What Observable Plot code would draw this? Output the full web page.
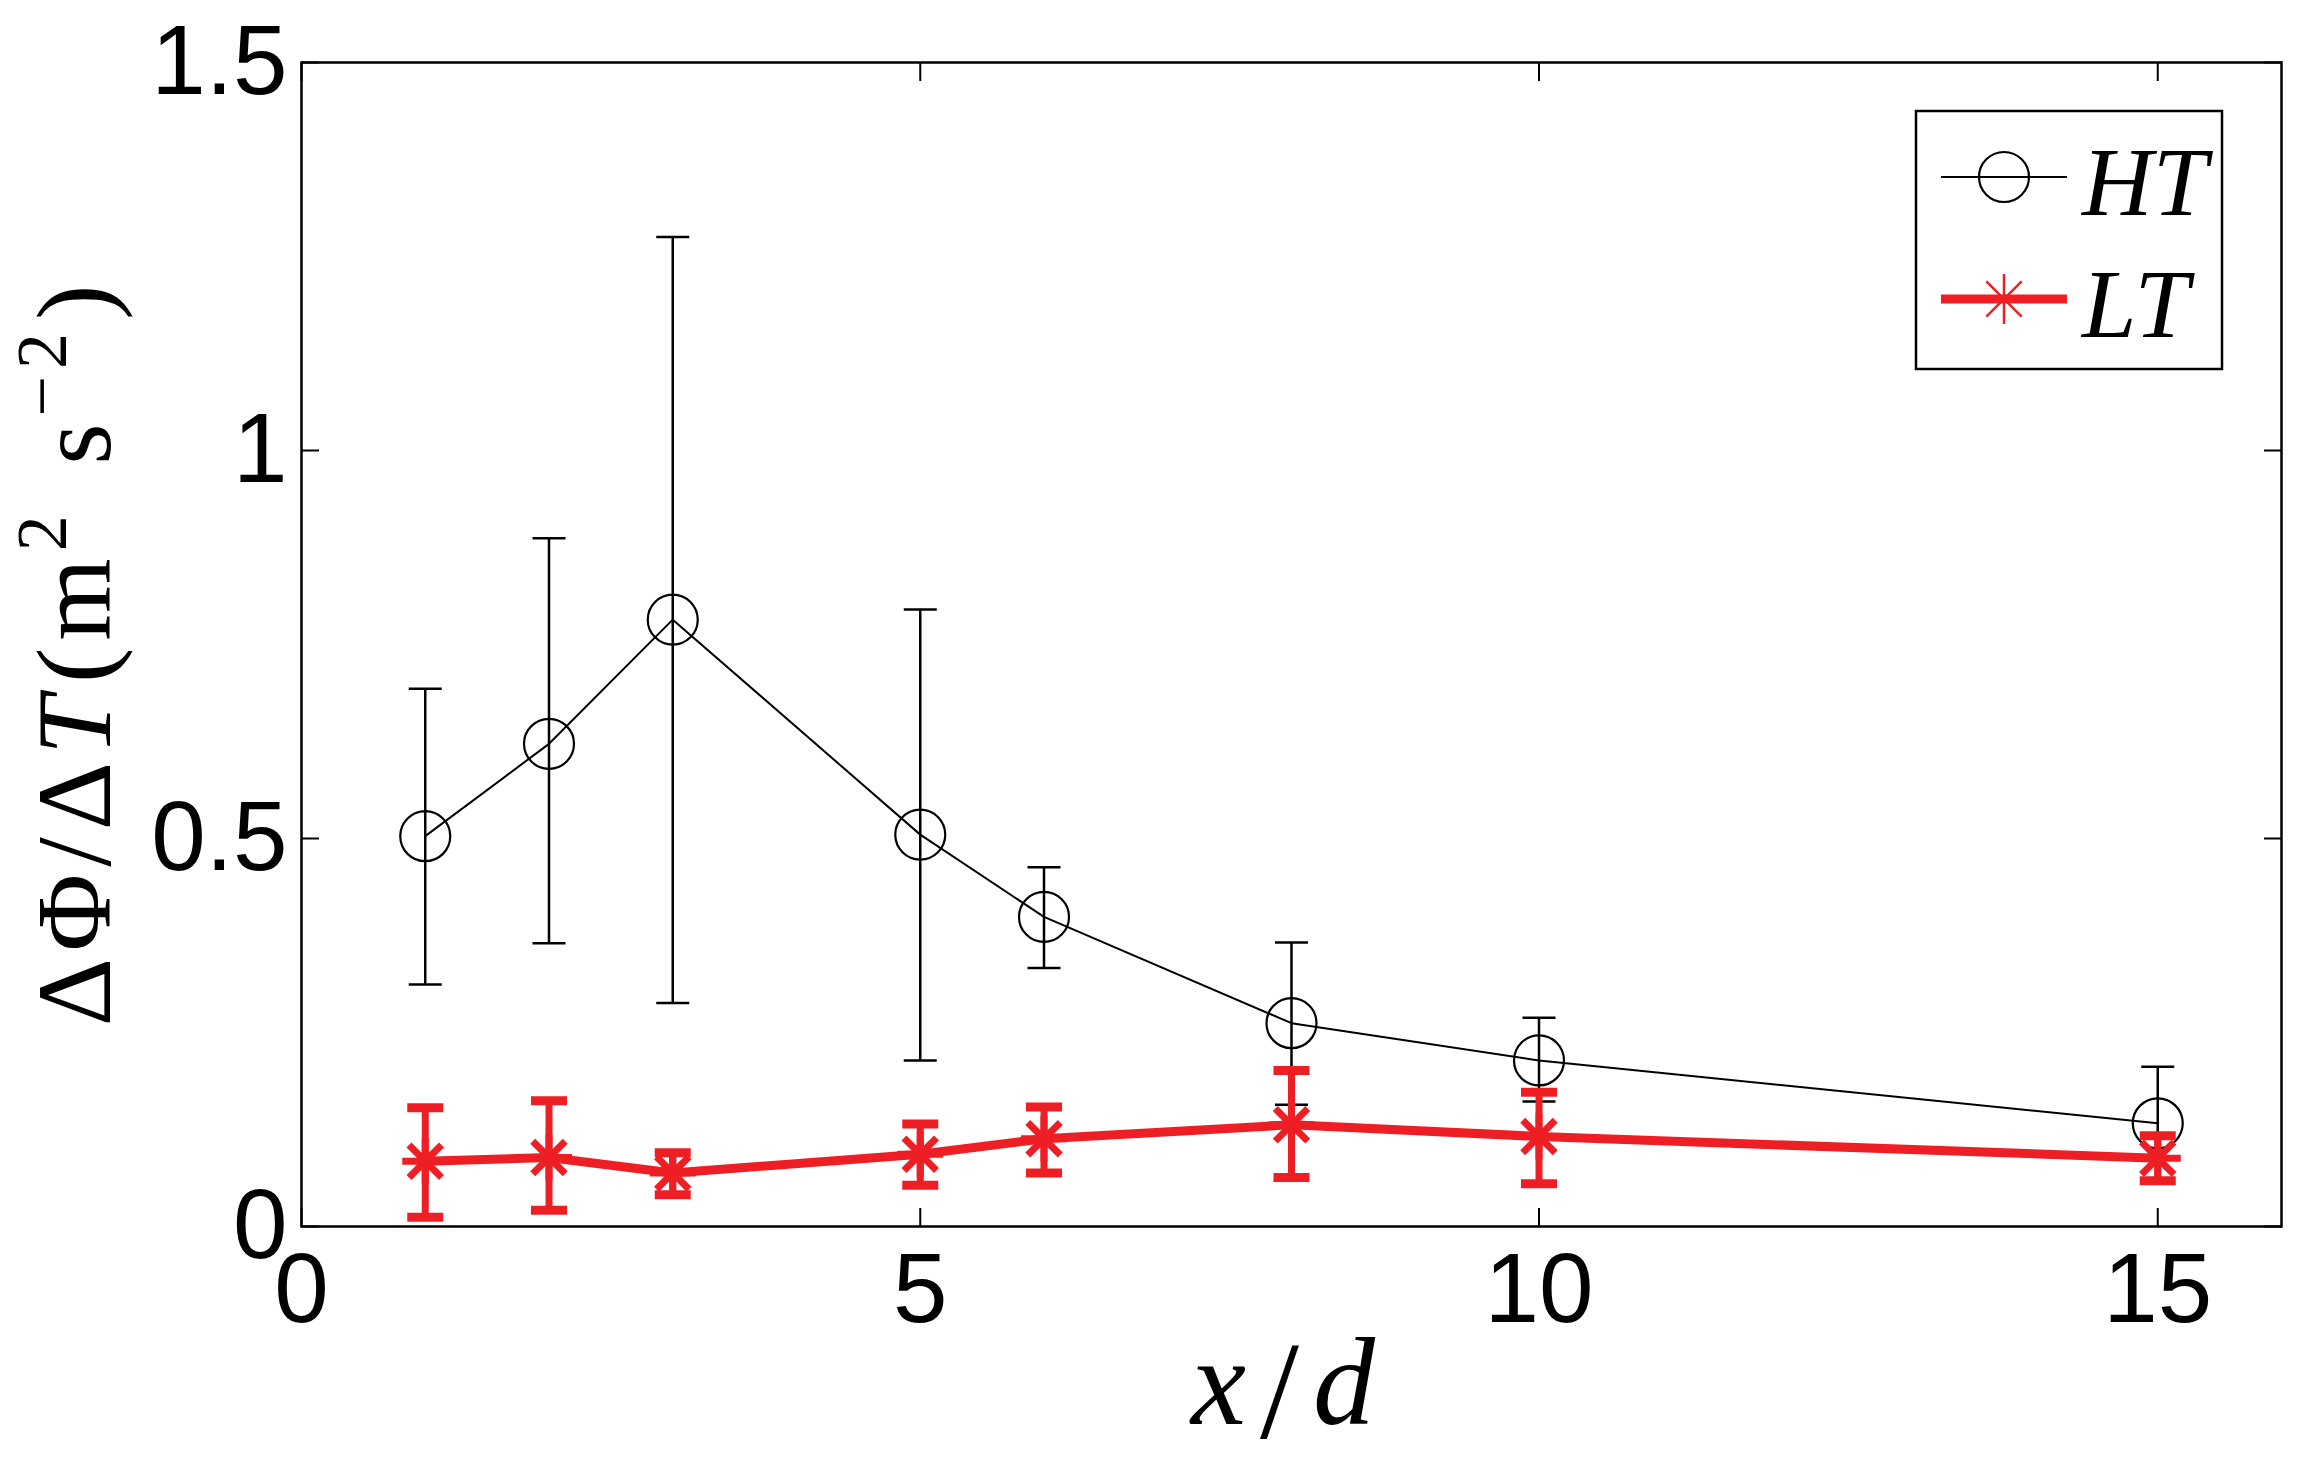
<!DOCTYPE html>
<html>
<head>
<meta charset="utf-8">
<script src="https://cdn.jsdelivr.net/npm/d3@7"></script>
<script src="https://cdn.jsdelivr.net/npm/@observablehq/plot@0.6"></script>
<style>
  html, body { margin: 0; padding: 0; background: #fff; }
  #chart svg { display: block; }
</style>
</head>
<body>
<div id="chart"></div>
<script>
// ---- data ----
const xd = [1, 2, 3, 5, 6, 8, 10, 15];
const htMean = [0.503, 0.622, 0.782, 0.505, 0.399, 0.262, 0.214, 0.133];
const htLow  = [0.312, 0.365, 0.288, 0.214, 0.333, 0.157, 0.161, 0.060];
const htHigh = [0.693, 0.887, 1.275, 0.795, 0.463, 0.366, 0.269, 0.206];
const ltMean = [0.084, 0.089, 0.069, 0.093, 0.113, 0.131, 0.116, 0.088];
const ltLow  = [0.012, 0.021, 0.041, 0.053, 0.069, 0.063, 0.055, 0.059];
const ltHigh = [0.153, 0.162, 0.095, 0.132, 0.154, 0.201, 0.173, 0.117];
const xTicks = [0, 5, 10, 15];
const yTicks = [0, 0.5, 1, 1.5];
const seriesNames = ["HT", "LT"];

const RED = "#ed1f24";

const ht = xd.map((x, i) => ({x, y: htMean[i], lo: htLow[i], hi: htHigh[i]}));
const lt = xd.map((x, i) => ({x, y: ltMean[i], lo: ltLow[i], hi: ltHigh[i]}));

// custom symbols
const capSymbol = {
  draw(ctx, size) {
    const w = Math.sqrt(size / Math.PI);
    ctx.moveTo(-w, 0); ctx.lineTo(w, 0);
  }
};
const asteriskSymbol = {
  draw(ctx, size) {
    const r = Math.sqrt(size / Math.PI);
    const d = r * Math.SQRT1_2;
    ctx.moveTo(-r, 0); ctx.lineTo(r, 0);
    ctx.moveTo(0, -r); ctx.lineTo(0, r);
    ctx.moveTo(-d, -d); ctx.lineTo(d, d);
    ctx.moveTo(-d, d); ctx.lineTo(d, -d);
  }
};

const chart = Plot.plot({
  width: 2310,
  height: 1476,
  marginLeft: 301,
  marginRight: 29,
  marginTop: 62,
  marginBottom: 250,
  x: {domain: [0, 16]},
  y: {domain: [0, 1.5]},
  style: {fontFamily: "'Liberation Sans', Arial, sans-serif", background: "#fff", color: "#000"},
  marks: [
    // inward ticks on all four sides
    Plot.axisX({anchor: "bottom", ticks: xTicks, tickSize: 18, dy: -18, tickFormat: () => "", label: null, strokeWidth: 2}),
    Plot.axisX({anchor: "top", ticks: xTicks, tickSize: 18, dy: 18, tickFormat: () => "", label: null, strokeWidth: 2}),
    Plot.axisY({anchor: "left", ticks: yTicks, tickSize: 18, dx: 18, tickFormat: () => "", label: null, strokeWidth: 2}),
    Plot.axisY({anchor: "right", ticks: yTicks, tickSize: 18, dx: -18, tickFormat: () => "", label: null, strokeWidth: 2}),
    // tick labels
    Plot.axisX({anchor: "bottom", ticks: xTicks, tickSize: 0, tickPadding: 26, fontSize: 98, tickFormat: d => String(d), label: null}),
    Plot.axisY({anchor: "left", ticks: yTicks, tickSize: 0, tickPadding: 14, fontSize: 98, tickFormat: d => String(d), label: null}),
    Plot.frame({stroke: "#000", strokeWidth: 2.5}),

    // HT series
    Plot.ruleX(ht, {x: "x", y1: "lo", y2: "hi", stroke: "#000", strokeWidth: 2.5}),
    Plot.dot(ht, {x: "x", y: "lo", symbol: capSymbol, r: 16.5, stroke: "#000", fill: "none", strokeWidth: 2.5}),
    Plot.dot(ht, {x: "x", y: "hi", symbol: capSymbol, r: 16.5, stroke: "#000", fill: "none", strokeWidth: 2.5}),
    Plot.line(ht, {x: "x", y: "y", stroke: "#000", strokeWidth: 2}),
    Plot.dot(ht, {x: "x", y: "y", r: 25, stroke: "#000", fill: "none", strokeWidth: 2.2}),

    // LT series
    Plot.ruleX(lt, {x: "x", y1: "lo", y2: "hi", stroke: RED, strokeWidth: 7}),
    Plot.dot(lt, {x: "x", y: "lo", symbol: capSymbol, r: 18, stroke: RED, fill: "none", strokeWidth: 9}),
    Plot.dot(lt, {x: "x", y: "hi", symbol: capSymbol, r: 18, stroke: RED, fill: "none", strokeWidth: 9}),
    Plot.line(lt, {x: "x", y: "y", stroke: RED, strokeWidth: 9}),
    Plot.dot(lt, {x: "x", y: "y", symbol: asteriskSymbol, r: 23, stroke: RED, fill: "none", strokeWidth: 7})
  ]
});

document.getElementById("chart").appendChild(chart);

const svg = d3.select(chart);
const serif = "'Liberation Serif', 'DejaVu Serif', serif";

// y-axis label
const yl = svg.append("text")
  .attr("transform", "translate(110,652) rotate(-90)")
  .attr("text-anchor", "middle")
  .attr("font-family", serif)
  .attr("font-size", 106)
  .attr("letter-spacing", 7)
  .attr("fill", "#000");
yl.append("tspan").text("ΔΦ/Δ");
yl.append("tspan").attr("font-style", "italic").text("T");
yl.append("tspan").attr("dx", 6).text("(m");
yl.append("tspan").attr("font-size", 72).attr("dy", -44).text("2");
yl.append("tspan").attr("dy", 44).attr("dx", 10).text(" s");
yl.append("tspan").attr("font-size", 72).attr("dy", -44).text("−2");
yl.append("tspan").attr("dy", 44).attr("dx", 6).text(")");

// x-axis label
const xl = svg.append("text")
  .attr("x", 1283).attr("y", 1424)
  .attr("text-anchor", "middle")
  .attr("font-family", serif)
  .attr("font-size", 124)
  .attr("fill", "#000");
xl.append("tspan").attr("font-style", "italic").text("x");
xl.append("tspan").attr("dx", 14).attr("font-size", 140).attr("dy", 14).text("/");
xl.append("tspan").attr("dx", 14).attr("dy", -14).attr("font-style", "italic").text("d");

// legend
const lg = svg.append("g");
lg.append("rect").attr("x", 1916).attr("y", 111).attr("width", 306).attr("height", 258)
  .attr("fill", "#fff").attr("stroke", "#000").attr("stroke-width", 2.5);
// HT entry
lg.append("line").attr("x1", 1941).attr("x2", 2067).attr("y1", 177).attr("y2", 177)
  .attr("stroke", "#000").attr("stroke-width", 2);
lg.append("circle").attr("cx", 2004).attr("cy", 177).attr("r", 25)
  .attr("fill", "none").attr("stroke", "#000").attr("stroke-width", 2.2);
lg.append("text").attr("x", 2082).attr("y", 215).attr("text-anchor", "start").attr("font-family", serif)
  .attr("font-style", "italic").attr("font-size", 98).attr("fill", "#000").text(seriesNames[0]);
// LT entry
lg.append("line").attr("x1", 1941).attr("x2", 2067).attr("y1", 299).attr("y2", 299)
  .attr("stroke", RED).attr("stroke-width", 9);
const a = 25, ad = a * Math.SQRT1_2;
lg.append("path")
  .attr("transform", "translate(2004,299)")
  .attr("d", `M${-a},0L${a},0M0,${-a}L0,${a}M${-ad},${-ad}L${ad},${ad}M${-ad},${ad}L${ad},${-ad}`)
  .attr("fill", "none").attr("stroke", RED).attr("stroke-width", 2.5);
lg.append("text").attr("x", 2082).attr("y", 337).attr("text-anchor", "start").attr("font-family", serif)
  .attr("font-style", "italic").attr("font-size", 98).attr("fill", "#000").text(seriesNames[1]);
</script>
</body>
</html>
